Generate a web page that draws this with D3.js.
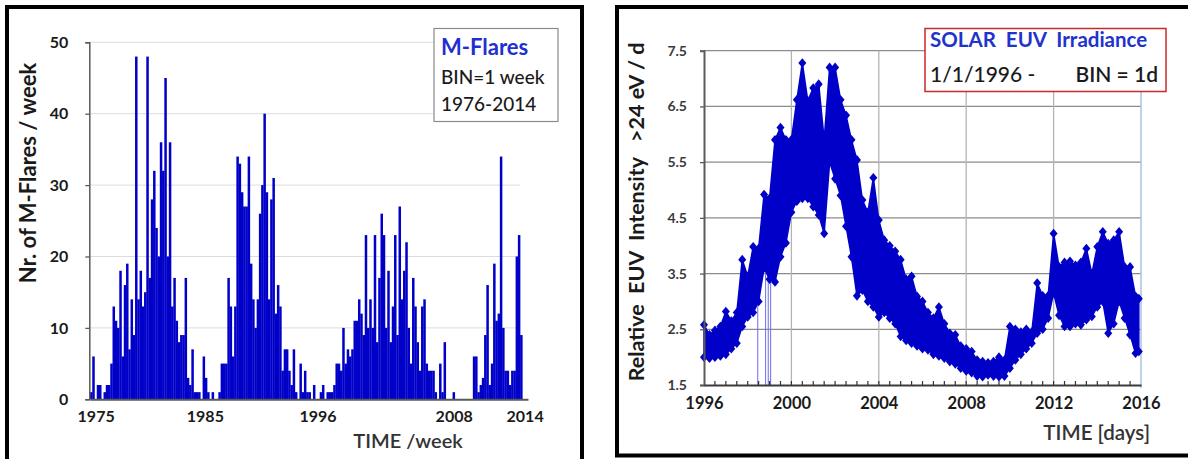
<!DOCTYPE html>
<html><head><meta charset="utf-8">
<script src="https://cdn.jsdelivr.net/npm/d3@7"></script>
<style>
body{margin:0;background:#fff;}
svg{display:block;font-family:Lato,"Open Sans",sans-serif;}
text{white-space:pre;}
</style></head><body>
<svg id="c" width="1188" height="459"></svg>
<script>
// ---------- LEFT PANEL DATA : M-flares per week ----------
const flareStart = 1975.5;
const flareStep = 0.2;
const flareCounts = [
 1,6,0,2,2,0,1,2,2,5, 13,11,10,18,6,16,19,7,14,9,
 48,14,18,13,15,48,17,28,32,24, 20,36,32,45,20,36,13,17,11,8,
 9,9,17,3,2,7,1,1,1,0, 6,3,1,0,1,0,0,1,5,5,
 5,17,13,6,13,34,33,29,27,27, 34,19,14,10,14,26,30,40,29,14,
 28,31,12,16,13,4,7,7,4,2, 7,1,0,5,1,4,1,1,0,2,
 0,0,1,2,0,1,1,1,2,5, 5,4,10,5,7,6,7,11,11,14,
 12,9,23,10,14,10,23,8,17,26, 23,10,18,8,13,23,9,27,14,18,
 22,10,5,17,13,8,4,13,14,5, 4,4,4,1,0,5,1,8,0,0,
 0,1,0,0,0,0,0,0,0,0, 6,6,1,2,3,9,16,2,5,19,
 11,12,34,10,4,4,2,4,4,20, 23,9
];
const flareTickYears = [1976.0, 1985.7, 1995.7, 2007.8, 2014.1];
const flareTickLabels = ["1975", "1985", "1996", "2008", "2014"];
const flareYTicks = [0, 10, 20, 30, 40, 50];

// ---------- RIGHT PANEL DATA : EUV irradiance (daily envelope) ----------
const euvYears = [
 1996.00,1996.25,1996.50,1996.75,1997.00,1997.25,1997.50,1997.75,1998.00,1998.25,
 1998.50,1998.75,1999.00,1999.25,1999.50,1999.75,2000.00,2000.25,2000.50,2000.75,
 2001.00,2001.25,2001.50,2001.75,2002.00,2002.25,2002.50,2002.75,2003.00,2003.25,
 2003.50,2003.75,2004.00,2004.25,2004.50,2004.75,2005.00,2005.25,2005.50,2005.75,
 2006.00,2006.25,2006.50,2006.75,2007.00,2007.25,2007.50,2007.75,2008.00,2008.25,
 2008.50,2008.75,2009.00,2009.25,2009.50,2009.75,2010.00,2010.25,2010.50,2010.75,
 2011.00,2011.25,2011.50,2011.75,2012.00,2012.25,2012.50,2012.75,2013.00,2013.25,
 2013.50,2013.75,2014.00,2014.25,2014.50,2014.75,2015.00,2015.25,2015.50,2015.75,
 2015.90
];
const euvHigh = [
 2.58,2.40,2.48,2.55,2.82,2.65,2.80,3.75,3.45,3.98,
 3.95,4.92,4.85,5.90,6.12,5.90,5.90,6.62,7.28,6.60,
 6.83,6.90,5.90,7.20,7.20,6.62,6.34,5.90,5.54,4.82,
 4.60,5.22,4.46,4.10,4.00,3.90,3.75,3.40,3.45,3.09,
 3.00,2.80,2.70,2.90,2.60,2.43,2.40,2.20,2.15,2.10,
 1.95,1.92,1.90,1.92,2.00,1.95,2.55,2.50,2.45,2.50,
 2.45,3.33,3.10,3.10,4.22,3.62,3.70,3.72,3.65,3.70,
 3.95,3.50,3.98,4.25,4.04,4.10,4.25,3.62,3.62,3.09,
 3.05
];
const euvLow = [
 2.00,1.98,2.00,2.02,2.05,2.15,2.25,2.55,2.72,2.80,
 3.00,3.60,3.40,3.35,3.80,4.05,4.60,4.80,4.85,4.85,
 4.70,4.55,4.22,5.50,5.20,4.90,4.35,3.80,3.10,3.20,
 3.00,2.90,2.72,2.80,2.70,2.60,2.37,2.30,2.25,2.20,
 2.15,2.13,2.05,2.02,1.98,1.92,1.88,1.80,1.75,1.72,
 1.66,1.65,1.68,1.66,1.65,1.66,1.80,1.95,2.05,2.15,
 2.25,2.43,2.50,2.70,3.15,2.75,2.55,2.55,2.60,2.58,
 2.67,2.73,2.90,3.00,2.43,2.60,3.00,2.70,2.40,2.07,
 2.10
];
const euvDropoutYears = [1998.46, 1998.82, 1998.94, 1999.05];
const euvYTicks = [1.5, 2.5, 3.5, 4.5, 5.5, 6.5, 7.5];
const euvXTicks = [1996, 2000, 2004, 2008, 2012, 2016];

// ---------- DRAW ----------
const svg = d3.select("#c");
const BLUE = "#0000c8";
const AXIS = "#5a5a5a";

// panel frames
svg.append("rect").attr("x", 7).attr("y", 7).attr("width", 575).attr("height", 470)
  .attr("fill", "#fff").attr("stroke", "#000").attr("stroke-width", 4);
svg.append("rect").attr("x", 617).attr("y", 7).attr("width", 590).attr("height", 448.5)
  .attr("fill", "#fff").attr("stroke", "#000").attr("stroke-width", 4);

// ===== Left chart =====
const xL = d3.scaleLinear().domain([1975.5, 2014.4]).range([90, 528]);
const yL = d3.scaleLinear().domain([0, 50]).range([399.3, 42.3]);
const gL = svg.append("g");

gL.append("g").selectAll("line").data(flareYTicks.filter(d => d > 0)).join("line")
  .attr("x1", xL(1975.5)).attr("x2", 520).attr("y1", d => yL(d)).attr("y2", d => yL(d))
  .attr("stroke", "#dcdcdc").attr("stroke-width", 1);

gL.append("g").selectAll("rect").data(flareCounts).join("rect")
  .attr("x", (d, i) => xL(flareStart + i * flareStep))
  .attr("width", (d, i) => xL(flareStart + (i + 1) * flareStep) - xL(flareStart + i * flareStep) + 0.25)
  .attr("y", d => yL(d))
  .attr("height", d => yL(0) - yL(d))
  .attr("fill", BLUE);

const yAxisL = d3.axisLeft(yL).tickValues(flareYTicks).tickSize(4).tickPadding(17).tickFormat(d3.format("d"));
gL.append("g").attr("transform", `translate(${xL(1975.5) - 0.7},0)`).call(yAxisL)
  .call(g => { g.select(".domain").attr("stroke", AXIS).attr("stroke-width", 1.5);
               g.selectAll(".tick line").attr("stroke", AXIS).attr("stroke-width", 1.3);
               g.selectAll("text").attr("font-size", 16).attr("font-weight", 700).attr("fill", "#1a1a1a").attr("font-family", "Lato"); });

const xAxisL = d3.axisBottom(xL).tickValues(flareTickYears).tickSize(0).tickPadding(11)
  .tickFormat((d, i) => flareTickLabels[i]);
gL.append("g").attr("transform", `translate(0,${yL(0)})`).call(xAxisL)
  .call(g => { g.select(".domain").attr("stroke", AXIS).attr("stroke-width", 2);
               g.selectAll("text").attr("font-size", 16).attr("font-weight", 700).attr("fill", "#1a1a1a").attr("font-family", "Lato"); });

gL.append("text").attr("transform", "translate(36,173) rotate(-90)").attr("text-anchor", "middle")
  .attr("font-size", 22).attr("font-weight", 700).attr("fill", "#1a1a1a").text("Nr. of M-Flares / week");
gL.append("text").attr("x", 408).attr("y", 448).attr("text-anchor", "middle")
  .attr("font-size", 20).attr("font-weight", 600).attr("fill", "#333").text("TIME /week");

// legend left
gL.append("rect").attr("x", 434).attr("y", 28.5).attr("width", 124).attr("height", 93)
  .attr("fill", "#fff").attr("stroke", "#8a8a8a").attr("stroke-width", 1.2);
gL.append("text").attr("x", 441).attr("y", 55).attr("font-size", 22).attr("font-weight", 700)
  .attr("fill", "#1f2fd0").text("M-Flares");
gL.append("text").attr("x", 441).attr("y", 83.5).attr("font-size", 19).attr("font-weight", 500)
  .attr("fill", "#1a1a1a").text("BIN=1 week");
gL.append("text").attr("x", 441).attr("y", 111).attr("font-size", 19).attr("font-weight", 500)
  .attr("fill", "#1a1a1a").text("1976-2014");

// ===== Right chart =====
const xR = d3.scaleLinear().domain([1996, 2016]).range([704, 1141]);
const yR = d3.scaleLinear().domain([1.5, 7.5]).range([385, 50.7]);
const gR = svg.append("g");

// gridlines
gR.append("g").selectAll("line").data(euvYTicks.filter(d => d > 1.5)).join("line")
  .attr("x1", xR(1996)).attr("x2", xR(2016)).attr("y1", d => yR(d)).attr("y2", d => yR(d))
  .attr("stroke", "#8c8c8c").attr("stroke-width", 1.3);
gR.append("g").selectAll("line").data(euvXTicks.filter(d => d > 1996 && d < 2016)).join("line")
  .attr("x1", d => xR(d)).attr("x2", d => xR(d)).attr("y1", yR(7.5)).attr("y2", yR(1.5))
  .attr("stroke", "#b4b4b4").attr("stroke-width", 1.3);
gR.append("line").attr("x1", xR(2016)).attr("x2", xR(2016)).attr("y1", yR(7.5)).attr("y2", yR(1.5) + 3)
  .attr("stroke", "#a9c4e4").attr("stroke-width", 1.5);

// dropout lines
gR.append("g").selectAll("line").data(euvDropoutYears).join("line")
  .attr("x1", d => xR(d)).attr("x2", d => xR(d)).attr("y1", yR(3.75)).attr("y2", yR(1.5))
  .attr("stroke", "#6b6bf0").attr("stroke-width", 1);

// data envelope
const euvPts = euvYears.map((t, i) => ({ t, hi: euvHigh[i], lo: euvLow[i] }));
gR.append("path").datum(euvPts)
  .attr("d", d3.area().x(d => xR(d.t)).y0(d => yR(d.lo)).y1(d => yR(d.hi)))
  .attr("fill", BLUE).attr("stroke", BLUE).attr("stroke-width", 1.5).attr("stroke-linejoin", "round");
const diamond = "M0,-4.8L4,0L0,4.8L-4,0Z";
gR.append("g").selectAll("path.hi").data(euvPts).join("path")
  .attr("d", diamond).attr("transform", d => `translate(${xR(d.t)},${yR(d.hi)})`).attr("fill", BLUE);
gR.append("g").selectAll("path.lo").data(euvPts).join("path")
  .attr("d", diamond).attr("transform", d => `translate(${xR(d.t)},${yR(d.lo)})`).attr("fill", BLUE);

// axes
const yAxisR = d3.axisLeft(yR).tickValues(euvYTicks).tickSize(4).tickPadding(13).tickFormat(d3.format(".1f"));
gR.append("g").attr("transform", `translate(${xR(1996)},0)`).call(yAxisR)
  .call(g => { g.select(".domain").attr("stroke", AXIS).attr("stroke-width", 2);
               g.selectAll(".tick line").attr("stroke", AXIS).attr("stroke-width", 1.3);
               g.selectAll("text").attr("font-size", 14).attr("font-weight", 700).attr("fill", "#3a3a3a").attr("font-family", "Lato"); });

const minorYears = d3.range(1996.5, 2016, 0.5);
gR.append("g").selectAll("line").data(minorYears).join("line")
  .attr("x1", d => xR(d)).attr("x2", d => xR(d)).attr("y1", yR(1.5)).attr("y2", yR(1.5) - 4)
  .attr("stroke", "#333").attr("stroke-width", 1.2);

const xAxisR = d3.axisBottom(xR).tickValues(euvXTicks).tickSize(0).tickPadding(12).tickFormat(d3.format("d"));
gR.append("g").attr("transform", `translate(0,${yR(1.5)})`).call(xAxisR)
  .call(g => { g.select(".domain").attr("stroke", "#3a3a3a").attr("stroke-width", 2);
               g.selectAll("text").attr("font-size", 16.5).attr("font-weight", 700).attr("fill", "#1a1a1a").attr("font-family", "Lato"); });

gR.append("text").attr("transform", "translate(644,212) rotate(-90)").attr("text-anchor", "middle")
  .attr("font-size", 21.5).attr("font-weight", 700).attr("fill", "#1a1a1a")
  .text("Relative  EUV  Intensity   >24 eV / d");
gR.append("text").attr("x", 1150).attr("y", 440).attr("text-anchor", "end")
  .attr("font-size", 20.5).attr("font-weight", 600).attr("fill", "#333").text("TIME [days]");

// legend right
gR.append("rect").attr("x", 925).attr("y", 28.5).attr("width", 241).attr("height", 63)
  .attr("fill", "#fff").attr("stroke", "#cc2a2a").attr("stroke-width", 1.5);
gR.append("text").attr("x", 930).attr("y", 47).attr("font-size", 20.5).attr("font-weight", 700)
  .attr("fill", "#2233cc").text("SOLAR  EUV  Irradiance");
gR.append("text").attr("x", 930).attr("y", 82).attr("font-size", 21).attr("font-weight", 500)
  .attr("fill", "#1a1a1a").text("1/1/1996 -");
gR.append("text").attr("x", 1158).attr("y", 82).attr("text-anchor", "end").attr("font-size", 21).attr("font-weight", 600)
  .attr("fill", "#1a1a1a").text("BIN = 1d");
</script>
</body></html>
